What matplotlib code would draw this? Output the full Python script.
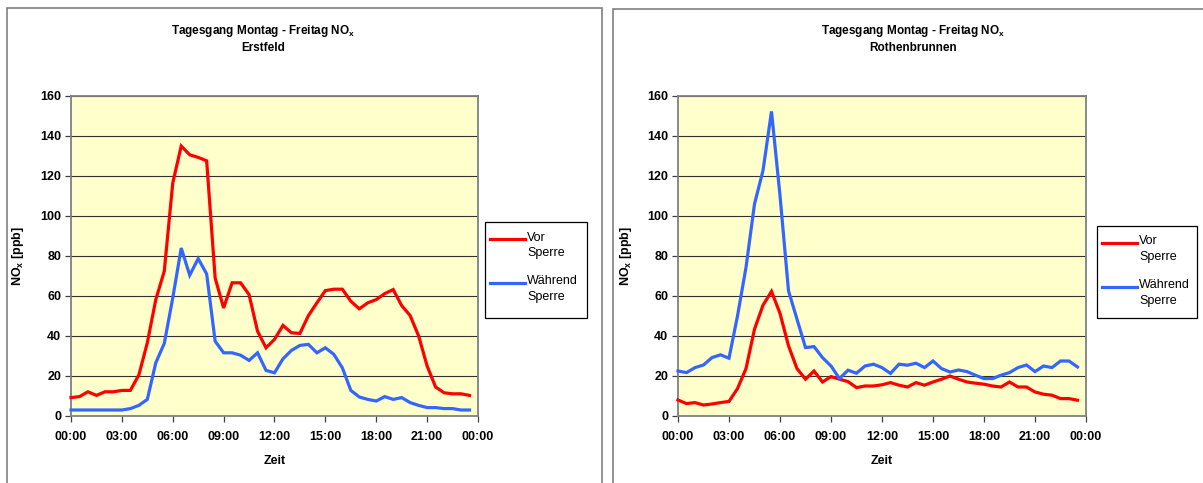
import matplotlib
matplotlib.use("Agg")
import matplotlib.pyplot as plt
from matplotlib.lines import Line2D
from matplotlib.patches import Rectangle
import numpy as np

plt.rcParams["font.family"] = ["Liberation Sans", "DejaVu Sans"]
plt.rcParams["mathtext.fontset"] = "custom"
plt.rcParams["mathtext.rm"] = "Liberation Sans"
plt.rcParams["mathtext.bf"] = "Liberation Sans:bold"

# half-hourly time of day (hours)
hours = np.arange(48) * 0.5

# Erstfeld, NOx [ppb]
erstfeld_vor = [9.2, 9.7, 12.1, 10.3, 12.1, 12.1, 12.8, 12.8, 20.5, 36.6,
                58.2, 72.4, 116.5, 135.0, 130.6, 129.3, 127.6, 69.0, 54.0, 66.6,
                66.6, 60.7, 42.4, 34.1, 38.3, 45.3, 41.6, 41.3, 50.2, 56.6,
                62.7, 63.4, 63.4, 57.4, 53.6, 56.6, 58.2, 61.2, 63.2, 55.2,
                50.2, 40.0, 25.0, 14.5, 11.6, 11.1, 11.1, 10.3]
erstfeld_waehrend = [3.0, 3.0, 3.0, 3.0, 3.0, 3.0, 3.0, 3.7, 5.3, 8.3,
                     26.6, 36.3, 59.0, 84.0, 70.4, 78.7, 71.0, 37.4, 31.6, 31.6,
                     30.4, 27.8, 31.6, 22.8, 21.6, 28.6, 32.8, 35.3, 35.8, 31.6,
                     34.1, 30.8, 24.1, 12.8, 9.5, 8.3, 7.5, 9.7, 8.3, 9.2,
                     6.7, 5.3, 4.2, 4.2, 3.7, 3.7, 3.0, 3.0]

# Rothenbrunnen, NOx [ppb]
rothenbrunnen_vor = [8.0, 6.2, 6.7, 5.5, 6.0, 6.7, 7.3, 13.7, 23.7, 43.4,
                     55.4, 62.3, 51.3, 35.1, 23.7, 18.4, 22.5, 17.0, 19.7, 18.4,
                     17.2, 14.2, 15.0, 15.0, 15.6, 16.7, 15.4, 14.5, 16.7, 15.4,
                     17.0, 18.4, 20.0, 18.4, 17.0, 16.4, 15.9, 15.0, 14.5, 17.0,
                     14.5, 14.5, 12.0, 10.9, 10.4, 8.7, 8.7, 7.9]
rothenbrunnen_waehrend = [22.5, 21.7, 24.2, 25.5, 29.2, 30.6, 28.9, 50.0, 74.3, 106.0,
                          122.7, 152.3, 110.2, 62.6, 48.4, 34.2, 34.7, 29.2, 25.0, 18.7,
                          22.9, 21.4, 25.0, 25.9, 24.2, 21.3, 25.9, 25.4, 26.4, 24.2,
                          27.5, 23.7, 22.0, 23.0, 22.2, 20.4, 18.7, 18.7, 20.4, 21.7,
                          24.2, 25.5, 22.2, 25.0, 24.2, 27.5, 27.5, 24.5]

x_ticks = np.arange(0, 25, 3)
x_ticklabels = ["00:00", "03:00", "06:00", "09:00", "12:00",
                "15:00", "18:00", "21:00", "00:00"]
y_ticks = np.arange(0, 161, 20)

series_labels = ["Vor\nSperre", "Während\nSperre"]
series_colors = ["#ff0000", "#3366ff"]
stations = ["Erstfeld", "Rothenbrunnen"]

W, H = 1203, 483
fig = plt.figure(figsize=(W / 100, H / 100), dpi=100)


def fx(px):
    return px / W


def fy(py):
    return 1 - py / H


panels = [
    dict(frame=(7, 8, 602, 490), ax=(71, 96, 478, 416), title_x=263,
         ylab_x=18, legend=(485, 222, 587, 318),
         data=(erstfeld_vor, erstfeld_waehrend), station=stations[0]),
    dict(frame=(613, 9, 1210, 490), ax=(678, 96, 1086, 416), title_x=913,
         ylab_x=626, legend=(1097, 226, 1197, 318),
         data=(rothenbrunnen_vor, rothenbrunnen_waehrend), station=stations[1]),
]

title_font = dict(fontsize=8.5, fontweight="bold", color="black")
label_font = dict(fontsize=9, fontweight="bold", color="black")

for p in panels:
    # chart frame
    x0, y0, x1, y1 = p["frame"]
    fig.add_artist(Rectangle((fx(x0), fy(y1)), fx(x1 - x0), (y1 - y0) / H,
                             transform=fig.transFigure, fill=False,
                             edgecolor="#808080", linewidth=1.2))

    a0, b0, a1, b1 = p["ax"]
    ax = fig.add_axes([fx(a0), fy(b1), fx(a1 - a0), (b1 - b0) / H])
    ax.set_facecolor("#ffffcc")
    for s in ax.spines.values():
        s.set_color("#808080")
        s.set_linewidth(1.3)
    ax.set_xlim(0, 24)
    ax.set_ylim(0, 160)
    ax.set_xticks(x_ticks)
    ax.set_xticklabels(x_ticklabels)
    ax.set_yticks(y_ticks)
    ax.tick_params(axis="both", direction="out", length=4, width=0.9,
                   color="#404040", labelsize=9, pad=3)
    ax.tick_params(axis="x", pad=7)
    for lbl in ax.get_xticklabels() + ax.get_yticklabels():
        lbl.set_fontweight("bold")
    ax.yaxis.grid(True, color="#303030", linewidth=0.8)
    ax.set_axisbelow(True)

    for vals, c in zip(p["data"], series_colors):
        ax.plot(hours, vals, color=c, linewidth=2.3,
                solid_joinstyle="miter", clip_on=False, zorder=3)

    # titles and axis labels
    fig.text(fx(p["title_x"]), fy(31),
             r"Tagesgang Montag - Freitag NO$_\mathbf{x}$",
             ha="center", va="center", **title_font)
    fig.text(fx(p["title_x"]), fy(48), p["station"],
             ha="center", va="center", **title_font)
    fig.text(fx((a0 + a1) / 2), fy(461), "Zeit", ha="center", va="center",
             **label_font)
    fig.text(fx(p["ylab_x"]), fy((b0 + b1) / 2), r"NO$_\mathbf{x}$ [ppb]",
             rotation=90, ha="center", va="center", **label_font)

    # legend box
    l0, m0, l1, m1 = p["legend"]
    fig.add_artist(Rectangle((fx(l0), fy(m1)), fx(l1 - l0), (m1 - m0) / H,
                             transform=fig.transFigure, facecolor="white",
                             edgecolor="black", linewidth=0.9))
    for k, (lab, c) in enumerate(zip(series_labels, series_colors)):
        row = m0 + 17 + 44 * k
        fig.add_artist(Line2D([fx(l0 + 5), fx(l0 + 40)], [fy(row), fy(row)],
                              transform=fig.transFigure, color=c,
                              linewidth=2.3))
        fig.text(fx(l0 + 42), fy(row - 7.5), lab, ha="left", va="top",
                 fontsize=9, color="black", linespacing=1.4)

fig.savefig("out.png", dpi=100)
